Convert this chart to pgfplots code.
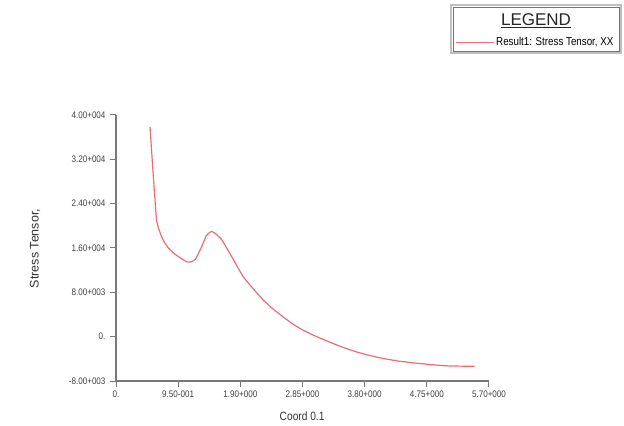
\documentclass[border=0pt]{standalone}
\usepackage{pgfplots}
\pgfplotsset{compat=1.18}
\usepackage{fontspec}
\setmainfont{Liberation Sans}
\newfontfamily\narrow[FakeStretch=0.85]{Liberation Sans}
\definecolor{curvered}{RGB}{236,108,114}
\definecolor{axgray}{RGB}{120,120,120}
\begin{document}
\begin{tikzpicture}
\path (0,0) rectangle (624bp,426bp);
\begin{axis}[
    at={(116bp,45bp)}, anchor=south west,
    scale only axis,
    width=373bp, height=266bp,
    xmin=0, xmax=5.7, ymin=-8000, ymax=40000,
    scaled y ticks=false, scaled x ticks=false,
    axis x line*=bottom, axis y line*=left,
    axis line style={axgray, line width=1.1bp, -},
    xtick={0,0.95,1.9,2.85,3.8,4.75,5.7},
    xticklabels={0.,9.50-001,1.90+000,2.85+000,3.80+000,4.75+000,5.70+000},
    ytick={-8000,0,8000,16000,24000,32000,40000},
    yticklabels={-8.00+003,0.,8.00+003,1.60+004,2.40+004,3.20+004,4.00+004},
    tick style={axgray, line width=1bp},
    major tick length=6bp, tick align=outside,
    tick label style={font=\narrow\fontsize{9.5bp}{10bp}\selectfont, text=black!75},
    yticklabel style={xshift=-1bp},
    xlabel={Coord 0.1},
    ylabel={Stress Tensor,},
    xlabel style={font=\narrow\fontsize{12bp}{13bp}\selectfont, text=black!80,
        at={(axis description cs:0.499,-0.132)}, anchor=center},
    ylabel style={font=\fontsize{12.5bp}{13bp}\selectfont, text=black!80,
        at={(axis description cs:-0.217,0.498)}, anchor=center},
    legend style={draw=none, fill=none, at={(axis description cs:0.909,1.274)},
        anchor=west, font=\narrow\fontsize{11.5bp}{12bp}\selectfont,
        inner sep=0pt, outer sep=0pt},
    legend image code/.code={\draw[#1] (0bp,0bp) -- (38bp,0bp);},
]
\addplot[curvered, line width=1.2bp, smooth, tension=0.3] coordinates {
(0.52,37830) (0.57,29000) (0.62,21040) (0.67,18900) (0.72,17430) (0.80,16000)
(0.90,14900) (1.00,14100) (1.08,13500) (1.13,13450) (1.21,13900) (1.30,16000)
(1.38,18200) (1.46,19000) (1.53,18500) (1.61,17600) (1.75,14800) (1.94,10900)
(2.10,8600) (2.25,6600) (2.40,5000) (2.55,3600) (2.70,2300) (2.86,1170)
(3.02,250) (3.17,-520) (3.42,-1720) (3.67,-2730) (3.88,-3400) (4.08,-3920)
(4.30,-4380) (4.54,-4720) (4.80,-5030) (5.05,-5260) (5.28,-5320) (5.48,-5330)
};
\addlegendentry{Result1: Stress Tensor, XX}
\end{axis}
\draw[black!25, line width=1.2bp] (451bp,373bp) rectangle (621bp,421bp);
\draw[black!55, line width=0.8bp] (453bp,375bp) rectangle (619bp,419bp);
\node[font=\fontsize{17bp}{18bp}\selectfont, text=black!85] at (536bp,405bp) {\underline{LEGEND}};
\end{tikzpicture}
\end{document}
